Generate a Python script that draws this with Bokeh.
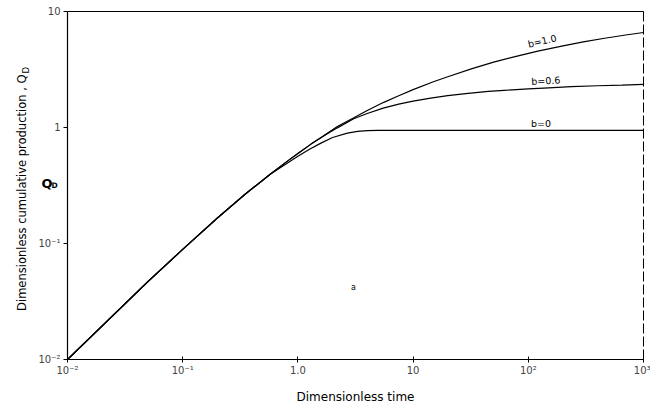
import math
from bokeh.plotting import figure
from bokeh.models import Range1d, FixedTicker, Label
from bokeh.embed import file_html
from bokeh.resources import INLINE

# ---- data ----
t_b10 = [0.01, 0.05, 0.1, 0.2, 0.35, 0.575, 0.8, 1.0, 1.3, 1.7, 2.2, 3, 4, 5.5, 7.5, 10,
         15, 20, 32, 50, 80, 121, 200, 300, 460, 700, 1000]
q_b10 = [0.01, 0.047, 0.089, 0.166, 0.267, 0.395, 0.508, 0.598, 0.719, 0.859, 1.02, 1.20,
         1.40, 1.64, 1.88, 2.12, 2.48, 2.74, 3.20, 3.66, 4.13, 4.55, 5.06, 5.47, 5.88, 6.27, 6.59]

t_b06 = [0.01, 0.05, 0.1, 0.2, 0.35, 0.575, 0.8, 1.0, 1.3, 1.7, 2.2, 3.05, 4, 5.5, 7.5, 10,
         14.2, 20, 30, 45, 61.5, 100, 150, 236, 400, 650, 1000]
q_b06 = [0.01, 0.047, 0.089, 0.166, 0.267, 0.395, 0.508, 0.598, 0.719, 0.855, 0.993, 1.19,
         1.32, 1.47, 1.59, 1.69, 1.79, 1.88, 1.97, 2.05, 2.09, 2.15, 2.20, 2.25, 2.29, 2.32, 2.35]

t_b0 = [0.01, 0.05, 0.1, 0.2, 0.35, 0.575, 0.8, 1.0, 1.25, 1.57, 2.0, 2.69, 3.3, 4.0, 5, 1000]
q_b0 = [0.01, 0.047, 0.089, 0.166, 0.267, 0.395, 0.49, 0.565, 0.645, 0.73, 0.82, 0.895,
        0.925, 0.94, 0.945, 0.945]

x_ticks = [0.01, 0.1, 1, 10, 100, 1000]
x_tick_labels = ["10\u207b\u00b2", "10\u207b\u00b9", "1.0", "10", "10\u00b2", "10\u00b3"]
y_ticks = [0.01, 0.1, 1, 10]
y_tick_labels = ["10\u207b\u00b2", "10\u207b\u00b9", "1", "10"]

curve_labels = ["b=1.0", "b=0.6", "b=0"]
label_t = [135, 143, 129]
label_q = [5.0, 2.27, 0.975]
label_angle = [0.22, 0.06, 0.0]

FONT = "DejaVu Sans"
W, H = 650, 403
# pixel layout of the reference frame
FL, FR, FT, FB = 67, 643, 11, 359
px_dec_x = (FR - FL) / 5.0
px_dec_y = (FB - FT) / 3.0
x_start = 10 ** (-2 - FL / px_dec_x)
x_end = 10 ** (3 + (W - FR) / px_dec_x)
y_end = 10 ** (1 + FT / px_dec_y)
y_start = 10 ** (-2 - (H - FB) / px_dec_y)

p = figure(width=W, height=H, x_axis_type="log", y_axis_type="log",
           x_range=Range1d(x_start, x_end), y_range=Range1d(y_start, y_end),
           output_backend="svg", toolbar_location=None,
           min_border_left=0, min_border_right=0, min_border_top=0, min_border_bottom=0)
p.outline_line_color = None
p.xgrid.visible = False
p.ygrid.visible = False

for t, q in [(t_b10, q_b10), (t_b06, q_b06), (t_b0, q_b0)]:
    p.line(t, q, line_color="black", line_width=1.2)

# frame borders: top solid, right broken (as in the scan)
p.segment(x0=[x_ticks[0]], y0=[y_ticks[-1]], x1=[x_ticks[-1]], y1=[y_ticks[-1]],
          line_color="black", line_width=1.2)
p.segment(x0=[x_ticks[-1]], y0=[y_ticks[0]], x1=[x_ticks[-1]], y1=[y_ticks[-1]],
          line_color="black", line_width=1, line_dash="10 3")

xa = p.xaxis[0]
xa.fixed_location = y_ticks[0]
xa.bounds = (x_ticks[0], x_ticks[-1])
xa.ticker = FixedTicker(ticks=x_ticks, minor_ticks=[])
xa.major_label_overrides = dict(zip(x_ticks, x_tick_labels))
xa.major_label_text_font = FONT
xa.major_label_text_font_size = "10px"
xa.major_label_standoff = 2
xa.major_tick_in = 3
xa.major_tick_out = 3
xa.minor_tick_line_color = None
xa.axis_line_width = 1.2

ya = p.yaxis[0]
ya.fixed_location = x_ticks[0]
ya.bounds = (y_ticks[0], y_ticks[-1])
ya.ticker = FixedTicker(ticks=y_ticks, minor_ticks=[])
ya.major_label_overrides = dict(zip(y_ticks, y_tick_labels))
ya.major_label_text_font = FONT
ya.major_label_text_font_size = "10px"
ya.major_label_standoff = 3
ya.major_tick_in = 0
ya.major_tick_out = 4
ya.minor_tick_line_color = None
ya.axis_line_width = 1.2

for txt, tt, qq, ang in zip(curve_labels, label_t, label_q, label_angle):
    p.add_layout(Label(x=tt, y=qq, text=txt, angle=ang, text_align="center",
                       text_baseline="bottom", text_font=FONT, text_font_size="9.5px",
                       text_color="black"))

p.add_layout(Label(x=3.04, y=0.042, text="a", text_align="center", text_baseline="middle",
                   text_font=FONT, text_font_size="8px", text_color="black"))

# axis titles (screen units: the frame covers the whole canvas, y measured upward)
p.add_layout(Label(x=(FL + FR) / 2, y=H - 396, x_units="screen", y_units="screen",
                   text="Dimensionless time", text_align="center", text_baseline="middle",
                   text_font=FONT, text_font_size="12px", text_color="black"))
p.add_layout(Label(x=21, y=H - 74, x_units="screen", y_units="screen",
                   text="Dimensionless cumulative production , Q", angle=math.pi / 2,
                   text_align="right", text_baseline="middle", text_font=FONT,
                   text_font_size="11.5px", text_color="black"))
p.add_layout(Label(x=25, y=H - 73, x_units="screen", y_units="screen",
                   text="D", angle=math.pi / 2, text_align="left", text_baseline="middle",
                   text_font=FONT, text_font_size="8.5px", text_color="black"))

# "Q_D" beside the y axis
p.add_layout(Label(x=41, y=H - 183, x_units="screen", y_units="screen", text="Q",
                   text_align="left", text_baseline="alphabetic", text_font=FONT,
                   text_font_size="13px", text_font_style="bold", text_color="black"))
p.add_layout(Label(x=51, y=H - 185, x_units="screen", y_units="screen", text="D",
                   text_align="left", text_baseline="alphabetic", text_font=FONT,
                   text_font_size="7.5px", text_font_style="bold", text_color="black"))

open("out.html", "w").write(file_html(p, INLINE))
